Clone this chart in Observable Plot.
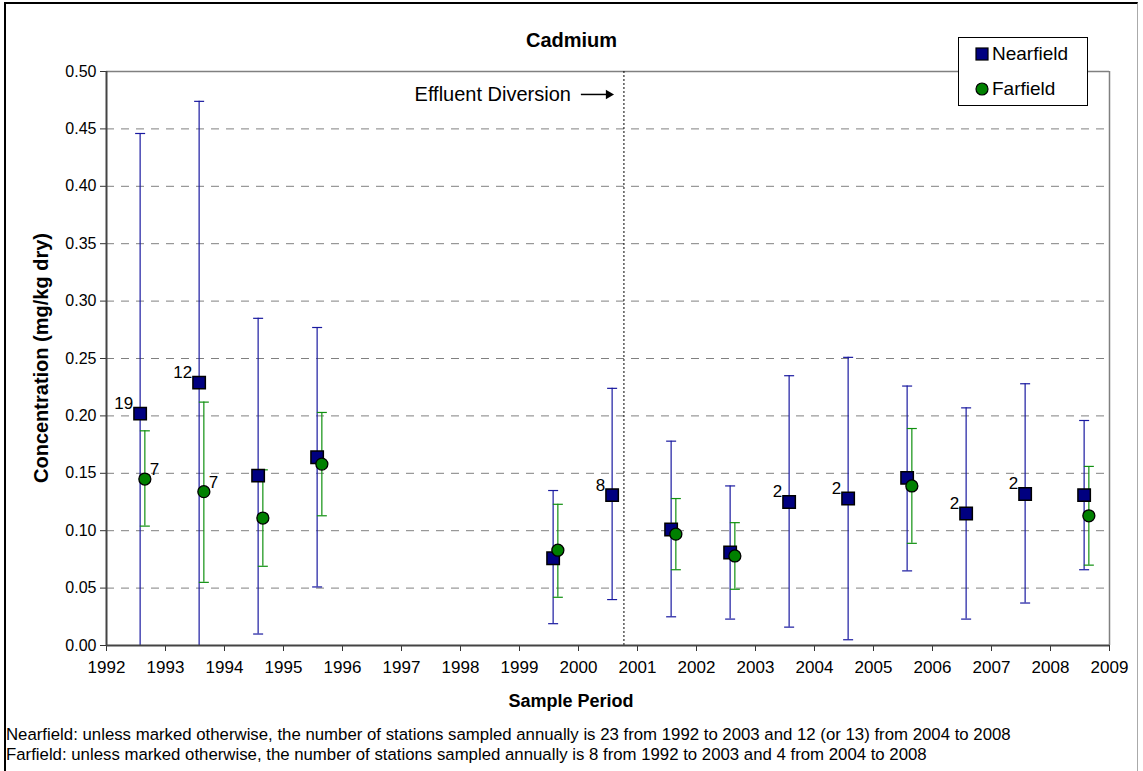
<!DOCTYPE html>
<html>
<head>
<meta charset="utf-8">
<script src="https://cdn.jsdelivr.net/npm/d3@7"></script>
<script src="https://cdn.jsdelivr.net/npm/@observablehq/plot@0.6"></script>
<style>
  html, body { margin: 0; padding: 0; background: #fff; }
  #wrap { position: relative; width: 1143px; height: 771px; font-family: "Liberation Sans", Arial, sans-serif; overflow: hidden; }
  #border { position: absolute; left: 4px; top: 2px; width: 1134px; height: 770px; border-left: 2px solid #000; border-top: 2px solid #000; border-right: 1px solid #aaa; box-sizing: border-box; }
  #title { position: absolute; left: 0; width: 1143px; top: 29px; text-align: center; font-weight: bold; font-size: 20px; color: #000; }
  #legend { position: absolute; left: 958px; top: 37px; width: 130px; height: 69px; background: #fff; border: 1px solid #000; box-sizing: border-box; font-size: 19px; }
  .li { position: absolute; left: 0; display: flex; align-items: center; }
  .li svg { margin-left: 16px; margin-right: 3px; }
  .foot { position: absolute; left: 6px; font-size: 16.8px; color: #000; white-space: nowrap; }
  #chart { position: absolute; left: 0; top: 0; }
</style>
</head>
<body>
<div id="wrap">
  <div id="border"></div>
  <div id="chart"></div>
  <div id="title"></div>
  <div id="legend"></div>
  <div class="foot" id="foot1" style="top:725px"></div>
  <div class="foot" id="foot2" style="top:745px"></div>
</div>
<script>
// ---------------- data ----------------
const titleText = "Cadmium";
const xLabel = "Sample Period";
const yLabel = "Concentration (mg/kg dry)";
const seriesNames = ["Nearfield", "Farfield"];

const nfYears = [1992, 1993, 1994, 1995, 1999, 2000, 2001, 2002, 2003, 2004, 2005, 2006, 2007, 2008];
const nfMean  = [0.202, 0.229, 0.148, 0.164, 0.076, 0.131, 0.101, 0.081, 0.125, 0.128, 0.146, 0.115, 0.132, 0.131];
const nfLow   = [-0.05, -0.05, 0.010, 0.051, 0.019, 0.040, 0.025, 0.023, 0.016, 0.005, 0.065, 0.023, 0.037, 0.066];
const nfHigh  = [0.446, 0.474, 0.285, 0.277, 0.135, 0.224, 0.178, 0.139, 0.235, 0.251, 0.226, 0.207, 0.228, 0.196];
const nfCounts = {1992: "19", 1993: "12", 2000: "8", 2003: "2", 2004: "2", 2006: "2", 2007: "2"};

const ffYears = [1992, 1993, 1994, 1995, 1999, 2001, 2002, 2005, 2008];
const ffMean  = [0.145, 0.134, 0.111, 0.158, 0.083, 0.097, 0.078, 0.139, 0.113];
const ffLow   = [0.104, 0.055, 0.069, 0.113, 0.042, 0.066, 0.049, 0.089, 0.070];
const ffHigh  = [0.187, 0.212, 0.153, 0.203, 0.123, 0.128, 0.107, 0.189, 0.156];
const ffCounts = {1992: "7", 1993: "7"};

const xTicks = d3.range(1992, 2010);
const yTicks = [0, 0.05, 0.10, 0.15, 0.20, 0.25, 0.30, 0.35, 0.40, 0.45, 0.50];
const gridLines = [0.05, 0.10, 0.15, 0.20, 0.25, 0.30, 0.35, 0.40, 0.45];
const diversion = [2000.77];
const diversionLabel = "Effluent Diversion";
const diversionLabelY = 0.48;

const footnotes = [
  "Nearfield: unless marked otherwise, the number of stations sampled annually is 23 from 1992 to 2003 and 12 (or 13) from 2004 to 2008",
  "Farfield: unless marked otherwise, the number of stations sampled annually is 8 from 1992 to 2003 and 4 from 2004 to 2008"
];

// ---------------- build ----------------
const NF_OFF = 0.57, FF_OFF = 0.65;
const nf = nfYears.map((y, i) => ({year: y, x: y + NF_OFF, mean: nfMean[i], low: nfLow[i], high: nfHigh[i], label: nfCounts[y] || ""}));
const ff = ffYears.map((y, i) => ({year: y, x: y + FF_OFF, mean: ffMean[i], low: ffLow[i], high: ffHigh[i], label: ffCounts[y] || ""}));

const capSymbol = {draw(ctx, size) { const r = Math.sqrt(size / Math.PI); ctx.moveTo(-r, 0); ctx.lineTo(r, 0); }};

const NF_BAR = "#1a1aa0", FF_BAR = "#109010";
const NF_FILL = "#000080", FF_FILL = "#008000";

const H = 720;
const plot = Plot.plot({
  width: 1143,
  height: H,
  marginLeft: 106,
  marginRight: 34,
  marginTop: 71,
  marginBottom: H - 645,
  style: {fontFamily: "Liberation Sans, Arial, sans-serif", background: "transparent", overflow: "visible"},
  x: {domain: [1992, 2009]},
  y: {domain: [0, 0.5]},
  marks: [
    Plot.ruleY(gridLines, {stroke: "#808080", strokeDasharray: "8,7", strokeWidth: 1}),
    Plot.ruleY([0.5], {stroke: "#808080", strokeWidth: 1.5}),
    Plot.ruleX([2009], {stroke: "#808080", strokeWidth: 1.5}),
    Plot.ruleX(diversion, {stroke: "#000", strokeDasharray: "2,2", strokeWidth: 1}),
    Plot.text(diversion, {x: d => d, y: () => diversionLabelY, text: () => diversionLabel, textAnchor: "end", dx: -53, fontSize: 20, fill: "#000"}),
    Plot.link(diversion, {x1: d => d - 0.73, x2: d => d - 0.30, y1: () => diversionLabelY, y2: () => diversionLabelY, stroke: "#000", strokeWidth: 1.5}),
    Plot.dot(diversion, {x: d => d - 0.26, y: () => diversionLabelY, symbol: "triangle", rotate: 90, r: 3.5, fill: "#000", stroke: "none"}),
    // error bars
    Plot.ruleX(nf, {x: "x", y1: "low", y2: "high", stroke: NF_BAR, strokeWidth: 1.2, clip: true}),
    Plot.dot(nf, {x: "x", y: "high", symbol: capSymbol, r: 5, stroke: NF_BAR, strokeWidth: 1.2}),
    Plot.dot(nf.filter(d => d.low >= 0), {x: "x", y: "low", symbol: capSymbol, r: 5, stroke: NF_BAR, strokeWidth: 1.2}),
    Plot.ruleX(ff, {x: "x", y1: "low", y2: "high", stroke: FF_BAR, strokeWidth: 1.2}),
    Plot.dot(ff, {x: "x", y: "high", symbol: capSymbol, r: 5, stroke: FF_BAR, strokeWidth: 1.2}),
    Plot.dot(ff, {x: "x", y: "low", symbol: capSymbol, r: 5, stroke: FF_BAR, strokeWidth: 1.2}),
    // axes
    Plot.axisX({ticks: xTicks, tickFormat: "d", tickSize: 6, tickPadding: 9, fontSize: 17, label: null, stroke: "#333"}),
    Plot.axisY({ticks: yTicks, tickFormat: ".2f", tickSize: 6, tickPadding: 4, fontSize: 16, label: null, stroke: "#333"}),
    Plot.ruleX([1992], {stroke: "#444", strokeWidth: 2}),
    Plot.ruleY([0], {stroke: "#444", strokeWidth: 2}),
    // points
    Plot.dot(nf, {x: "x", y: "mean", symbol: "square", r: 7, fill: NF_FILL, stroke: "#000", strokeWidth: 1.5}),
    Plot.dot(ff, {x: "x", y: "mean", symbol: "circle", r: 6, fill: FF_FILL, stroke: "#000", strokeWidth: 1.3}),
    // count labels
    Plot.text(nf.filter(d => d.label), {x: "x", y: "mean", text: "label", textAnchor: "end", dx: -7, dy: -10, fontSize: 17, fill: "#000"}),
    Plot.text(ff.filter(d => d.label), {x: "x", y: "mean", text: "label", textAnchor: "start", dx: 5, dy: -9, fontSize: 17, fill: "#000"})
  ]
});
document.getElementById("chart").appendChild(plot);

// axis titles
const svg = d3.select(plot);
svg.append("text")
  .attr("x", 571).attr("y", 707)
  .attr("text-anchor", "middle")
  .attr("font-weight", "bold").attr("font-size", 18)
  .attr("font-family", "Liberation Sans, Arial, sans-serif")
  .text(xLabel);
svg.append("text")
  .attr("transform", "translate(48,358) rotate(-90)")
  .attr("text-anchor", "middle")
  .attr("font-weight", "bold").attr("font-size", 20)
  .attr("font-family", "Liberation Sans, Arial, sans-serif")
  .text(yLabel);

document.getElementById("title").textContent = titleText;
document.getElementById("foot1").textContent = footnotes[0];
document.getElementById("foot2").textContent = footnotes[1];

// legend
const legend = document.getElementById("legend");
const syms = [
  `<svg width="14" height="14"><rect x="1" y="1" width="12" height="12" fill="${NF_FILL}" stroke="#000" stroke-width="1.2"/></svg>`,
  `<svg width="14" height="14"><circle cx="7" cy="7" r="6" fill="${FF_FILL}" stroke="#000" stroke-width="1.2"/></svg>`
];
seriesNames.forEach((name, i) => {
  const row = document.createElement("div");
  row.className = "li";
  row.style.top = (i === 0 ? 5 : 40) + "px";
  row.innerHTML = syms[i] + `<span>${name}</span>`;
  legend.appendChild(row);
});
</script>
</body>
</html>
